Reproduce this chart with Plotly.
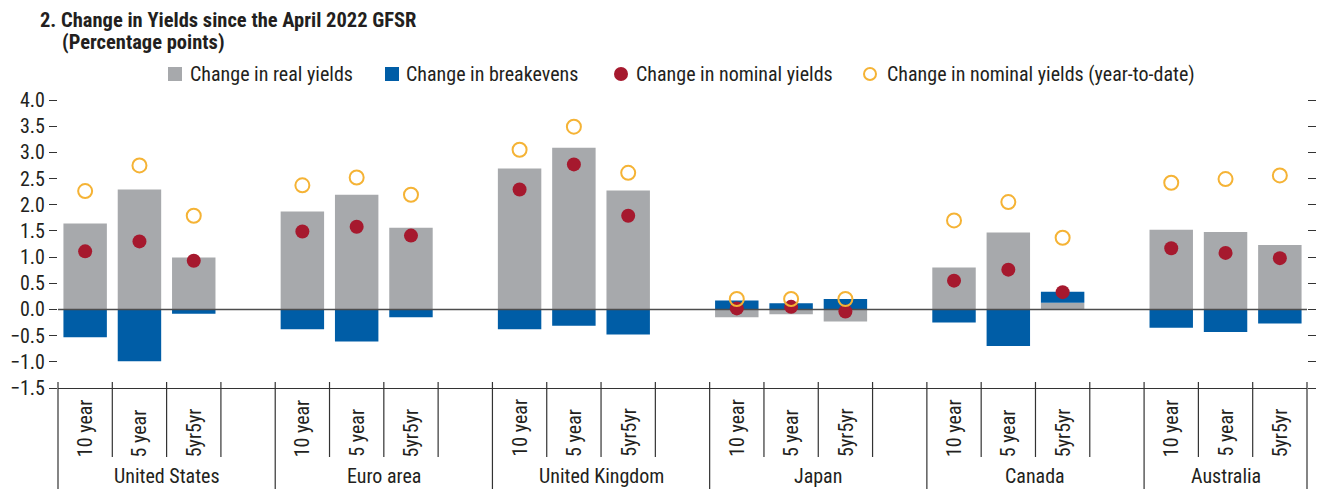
import plotly.graph_objects as go

countries = ["United States", "Euro area", "United Kingdom", "Japan", "Canada", "Australia"]
maturities = ["10 year", "5 year", "5yr5yr"]

real_yields = [1.64, 2.29, 0.99, 1.87, 2.19, 1.56, 2.69, 3.09, 2.27,
               -0.15, -0.09, -0.23, 0.80, 1.47, 0.13, 1.52, 1.48, 1.23]
breakevens = [-0.53, -0.99, -0.08, -0.38, -0.61, -0.15, -0.38, -0.31, -0.48,
              0.17, 0.12, 0.20, -0.25, -0.70, 0.21, -0.35, -0.43, -0.27]
nominal = [1.11, 1.30, 0.93, 1.49, 1.58, 1.41, 2.29, 2.77, 1.79,
           0.02, 0.05, -0.04, 0.55, 0.76, 0.33, 1.17, 1.08, 0.98]
nominal_ytd = [2.26, 2.75, 1.79, 2.37, 2.52, 2.19, 3.05, 3.49, 2.61,
               0.20, 0.20, 0.20, 1.70, 2.05, 1.37, 2.42, 2.49, 2.56]

series_names = ["Change in real yields", "Change in breakevens",
                "Change in nominal yields", "Change in nominal yields (year-to-date)"]
GRAY, BLUE, RED, ORANGE = "#a7a9ac", "#005da6", "#a6192e", "#f5b335"

FONT = "Roboto Condensed, Liberation Sans Narrow, Arial Narrow, sans-serif"
TXT = "#231f20"
SLOTS = 4
n_slots = SLOTS * (len(countries) - 1) + len(maturities)  # 23

# the page body adds an 8px margin; lay out in page pixels and compensate
OFF = 8
W, H = 1325 - OFF, 489 - OFF
PL, PR, PT, PB = 58, 1307, 100, 388          # plot area edges in page pixels
ML, MR, MT, MB = PL - OFF, W - (PR - OFF), PT - OFF, H - (PB - OFF)
PW, PH = PR - PL, PB - PT


def pxx(X):  # page pixel x -> paper
    return (X - PL) / PW


def pxy(Y):  # page pixel y -> paper
    return (PB - Y) / PH


xs = [ci * SLOTS + mi for ci in range(len(countries)) for mi in range(len(maturities))]

fig = go.Figure()
fig.add_trace(go.Bar(x=xs, y=real_yields, name=series_names[0],
                     marker=dict(color=GRAY, line=dict(width=0)), width=0.8))
fig.add_trace(go.Bar(x=xs, y=breakevens, name=series_names[1],
                     marker=dict(color=BLUE, line=dict(width=0)), width=0.8))
fig.add_trace(go.Scatter(x=[-0.5, n_slots - 0.5], y=[0, 0], mode="lines",
                         line=dict(color="#4d4d4d", width=1.6), showlegend=False,
                         hoverinfo="skip"))
fig.add_trace(go.Scatter(x=xs, y=nominal, mode="markers", name=series_names[2],
                         marker=dict(color=RED, size=14, line=dict(width=0))))
fig.add_trace(go.Scatter(x=xs, y=nominal_ytd, mode="markers", name=series_names[3],
                         marker=dict(symbol="circle-open", color=ORANGE, size=14,
                                     line=dict(width=2, color=ORANGE))))

shapes = []
annotations = []


def slot_paper(v):
    return (v + 0.5) / n_slots


SEP = "#333333"
for ci, c in enumerate(countries):
    base = ci * SLOTS
    nslot = SLOTS if ci < len(countries) - 1 else len(maturities)
    shapes.append(dict(type="line", xref="paper", yref="paper",
                       x0=slot_paper(base - 0.5), x1=slot_paper(base - 0.5),
                       y0=pxy(382), y1=pxy(492), line=dict(color=SEP, width=1.2)))
    for k in range(1, nslot):
        shapes.append(dict(type="line", xref="paper", yref="paper",
                           x0=slot_paper(base + k - 0.5), x1=slot_paper(base + k - 0.5),
                           y0=pxy(382), y1=pxy(457), line=dict(color=SEP, width=1.2)))
    for mi, m in enumerate(maturities):
        annotations.append(dict(text=m, xref="paper", yref="paper",
                                x=slot_paper(base + mi), y=pxy(459), xanchor="center",
                                yanchor="bottom", textangle=-90, showarrow=False,
                                font=dict(family=FONT, size=20, color=TXT)))
    center = base + (nslot - 1) / 2
    annotations.append(dict(text=c, xref="paper", yref="paper", x=slot_paper(center),
                            y=pxy(476), xanchor="center", yanchor="middle", showarrow=False,
                            font=dict(family=FONT, size=20, color=TXT)))
shapes.append(dict(type="line", xref="paper", yref="paper", x0=1, x1=1,
                   y0=pxy(382), y1=pxy(492), line=dict(color=SEP, width=1.2)))

# title
annotations.append(dict(text="<b>2. Change in Yields since the April 2022 GFSR</b>",
                        xref="paper", yref="paper", x=pxx(39), y=pxy(20.5), xanchor="left",
                        yanchor="middle", showarrow=False, borderpad=0,
                        font=dict(family=FONT, size=20.5, color=TXT)))
annotations.append(dict(text="<b>(Percentage points)</b>",
                        xref="paper", yref="paper", x=pxx(61), y=pxy(42), xanchor="left",
                        yanchor="middle", showarrow=False, borderpad=0,
                        font=dict(family=FONT, size=20.5, color=TXT)))

# manual legend
LEG_Y = 74
legend_items = [  # (symbol center x, text start x, kind, color)
    (175, 188, "square", GRAY),
    (392, 404, "square", BLUE),
    (621, 634, "dot", RED),
    (870, 885, "ring", ORANGE),
]
for (cx, tx, kind, col), name in zip(legend_items, series_names):
    r = 7
    if kind == "square":
        shapes.append(dict(type="rect", xref="paper", yref="paper",
                           x0=pxx(cx - r), x1=pxx(cx + r), y0=pxy(LEG_Y - r), y1=pxy(LEG_Y + r),
                           fillcolor=col, line=dict(width=0)))
    elif kind == "dot":
        shapes.append(dict(type="circle", xref="paper", yref="paper",
                           x0=pxx(cx - r), x1=pxx(cx + r), y0=pxy(LEG_Y - r), y1=pxy(LEG_Y + r),
                           fillcolor=col, line=dict(width=0)))
    else:
        shapes.append(dict(type="circle", xref="paper", yref="paper",
                           x0=pxx(cx - 6), x1=pxx(cx + 6), y0=pxy(LEG_Y - 6), y1=pxy(LEG_Y + 6),
                           fillcolor="rgba(0,0,0,0)", line=dict(color=col, width=2)))
    annotations.append(dict(text=name, xref="paper", yref="paper", x=pxx(tx), y=pxy(LEG_Y),
                            xanchor="left", yanchor="middle", showarrow=False,
                            font=dict(family=FONT, size=20, color=TXT)))

fig.update_layout(
    width=W, height=H,
    margin=dict(l=ML, r=MR, t=MT, b=MB, autoexpand=False),
    paper_bgcolor="white", plot_bgcolor="white",
    barmode="relative",
    font=dict(family=FONT, size=20, color=TXT),
    showlegend=False,
    xaxis=dict(range=[-0.5, n_slots - 0.5], showticklabels=False, ticks="",
               showgrid=False, zeroline=False, showline=True, linecolor=SEP,
               linewidth=1.2, automargin=False),
    yaxis=dict(range=[-1.5, 4.0], dtick=0.5, tick0=0, tickformat=".1f",
               ticks="outside", ticklen=8, tickwidth=1.2, tickcolor=SEP,
               showgrid=False, zeroline=False, showline=False, mirror="ticks",
               automargin=False, tickfont=dict(family=FONT, size=20, color=TXT)),
    shapes=shapes, annotations=annotations,
)

fig.write_html("out.html")
